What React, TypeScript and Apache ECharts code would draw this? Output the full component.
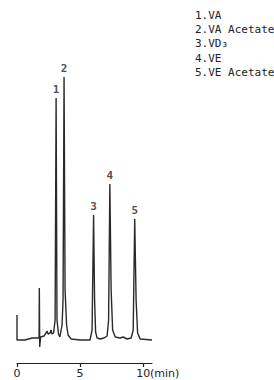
import React, { useEffect, useRef } from "react";
import * as echarts from "echarts";

// Chromatogram trace (time in min, detector signal in arbitrary units)
const traceTime = [
  0, 0, 0.63, 1.2, 1.6, 1.75, 1.77, 1.8, 1.87, 2.14, 2.3, 2.38, 2.46, 2.62, 2.7,
  2.78, 2.9, 3.02, 3.1, 3.17, 3.29, 3.4, 3.57, 3.65, 3.73, 3.81, 3.93, 4.05, 4.29,
  5.0, 5.79, 5.95, 6.07, 6.15, 6.23, 6.35, 6.59, 6.9, 7.14, 7.26, 7.36, 7.46, 7.58,
  7.78, 8.17, 8.41, 8.73, 9.05, 9.21, 9.33, 9.44, 9.56, 9.76, 10.7,
];
const traceSignal = [
  25, 0, 0, 2, 2, 2, 52, -7, 3, 4, 7, 9, 6, 7, 10,
  6, 7, 20, 242, 20, 6, 3, 15, 40, 263, 50, 15, 5, 1,
  0, 0, 10, 125, 40, 8, 2, 1, 2, 4, 20, 156, 50, 10,
  3, 2, 3, 1, 2, 10, 121, 40, 7, 1, 0,
];

const peakNumbers = ["1", "2", "3", "4", "5"];
const peakNames = ["VA", "VA Acetate", "VD\u2083", "VE", "VE Acetate"];
const peakTimes = [3.1, 3.73, 6.07, 7.36, 9.33];
const peakHeights = [242, 263, 125, 156, 121];

const tickValues = [0, 5, 10];
const timeUnit = "(min)";

export default function App() {
  const ref = useRef<HTMLDivElement>(null);

  useEffect(() => {
    if (!ref.current) return;
    const chart = echarts.init(ref.current, null, { renderer: "svg" });
    const ink = "#222222";
    const mono = "DejaVu Sans Mono";

    const legendLines = peakNames.map((n, i) => `${peakNumbers[i]}.${n}`);

    chart.setOption({
      animation: false,
      backgroundColor: "#ffffff",
      grid: { left: 17, top: 63, width: 135, height: 300, containLabel: false },
      xAxis: {
        type: "value",
        min: 0,
        max: 10.7,
        interval: 5,
        axisLine: { show: true, onZero: false, lineStyle: { color: ink, width: 1.2 } },
        axisTick: {
          show: true,
          inside: false,
          length: 4,
          customValues: tickValues,
          lineStyle: { color: ink, width: 1.2 },
        },
        axisLabel: {
          customValues: tickValues,
          margin: 5,
          color: ink,
          fontFamily: "DejaVu Sans",
          fontSize: 11,
          formatter: (v: number) => String(v),
        },
        splitLine: { show: false },
      },
      yAxis: {
        type: "value",
        min: -23,
        max: 277,
        show: false,
        splitLine: { show: false },
      },
      series: [
        {
          type: "line",
          data: traceTime.map((t, i) => [t, traceSignal[i]]),
          symbol: "none",
          lineStyle: { color: "#2a2a2a", width: 1.4 },
          silent: true,
        },
        {
          type: "scatter",
          data: peakTimes.map((t, i) => ({
            value: [t, peakHeights[i]],
            name: peakNumbers[i],
          })),
          symbolSize: 0,
          label: {
            show: true,
            position: "top",
            distance: 3,
            formatter: (p: any) => p.name,
            color: ink,
            fontFamily: mono,
            fontWeight: "bold",
            fontSize: 11,
          },
          silent: true,
        },
      ],
      graphic: [
        {
          type: "text",
          left: 195,
          top: 8,
          style: {
            text: legendLines.join("\n"),
            fill: ink,
            font: `11px ${mono}`,
            lineHeight: 14.3,
          },
        },
        {
          type: "text",
          left: 150,
          top: 368,
          style: {
            text: timeUnit,
            fill: ink,
            font: "11px DejaVu Sans",
          },
        },
      ],
    });

    return () => chart.dispose();
  }, []);

  return (
    <div
      ref={ref}
      style={{ position: "fixed", left: 0, top: 0, width: 274, height: 380 }}
    />
  );
}
